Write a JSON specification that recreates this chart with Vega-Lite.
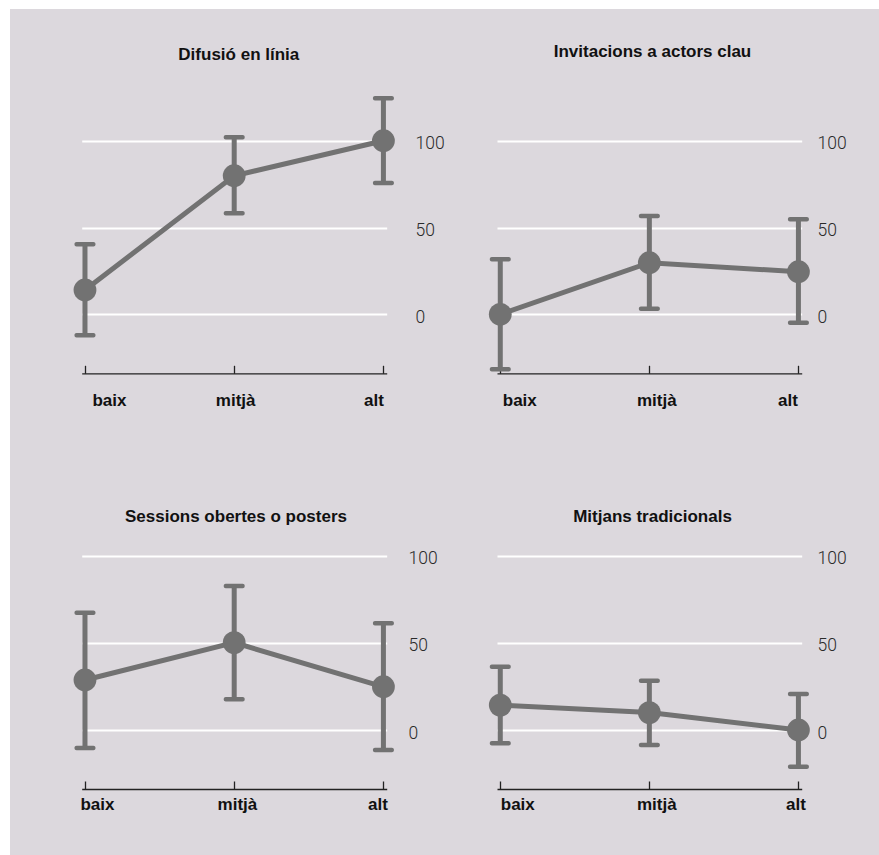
{
  "$schema": "https://vega.github.io/schema/vega-lite/v6.json",
  "background": "white",
  "padding": {"left": 10, "top": 9, "right": 0, "bottom": 0},
  "columns": 2,
  "spacing": 0,
  "bounds": "flush",
  "data": {"values": [
    {"panell": "Difusió en línia", "nivell": "baix", "ord": 1, "valor": 14.0, "lo": -12.1, "hi": 40.3},
    {"panell": "Difusió en línia", "nivell": "mitjà", "ord": 2, "valor": 79.8, "lo": 58.2, "hi": 102.0},
    {"panell": "Difusió en línia", "nivell": "alt", "ord": 3, "valor": 100.0, "lo": 75.6, "hi": 124.4},
    {"panell": "Invitacions a actors clau", "nivell": "baix", "ord": 1, "valor": 0.0, "lo": -31.7, "hi": 31.7},
    {"panell": "Invitacions a actors clau", "nivell": "mitjà", "ord": 2, "valor": 29.7, "lo": 3.2, "hi": 56.6},
    {"panell": "Invitacions a actors clau", "nivell": "alt", "ord": 3, "valor": 24.5, "lo": -4.8, "hi": 54.7},
    {"panell": "Sessions obertes o posters", "nivell": "baix", "ord": 1, "valor": 28.7, "lo": -10.3, "hi": 67.3},
    {"panell": "Sessions obertes o posters", "nivell": "mitjà", "ord": 2, "valor": 50.1, "lo": 17.6, "hi": 82.6},
    {"panell": "Sessions obertes o posters", "nivell": "alt", "ord": 3, "valor": 24.8, "lo": -11.5, "hi": 61.2},
    {"panell": "Mitjans tradicionals", "nivell": "baix", "ord": 1, "valor": 14.3, "lo": -7.6, "hi": 36.3},
    {"panell": "Mitjans tradicionals", "nivell": "mitjà", "ord": 2, "valor": 10.0, "lo": -8.6, "hi": 28.3},
    {"panell": "Mitjans tradicionals", "nivell": "alt", "ord": 3, "valor": 0.0, "lo": -21.1, "hi": 20.7}
  ]},
  "concat": [
    {
      "width": 450, "height": 418,
      "title": {"text": "Difusió en línia", "anchor": "middle", "frame": "group", "offset": -63, "baseline": "middle", "dx": 3.8},
      "transform": [{"filter": "datum.panell == 'Difusió en línia'"}],
      "encoding": {
        "x": {"field": "nivell", "type": "ordinal", "sort": ["baix", "mitjà", "alt"],
          "scale": {"type": "point", "domain": ["baix", "mitjà", "alt"], "range": [71.7, 376.7], "padding": 0.022},
          "axis": {"title": null, "orient": "bottom", "offset": -53.7, "labelPadding": 34.7,
            "labelOffset": {"expr": "datum.value == 'baix' ? 7 : datum.value == 'mitjà' ? 1 : 0"}}}
      },
      "layer": [
        {"mark": {"type": "rule", "strokeWidth": 5, "color": "#727272"},
         "encoding": {"y": {"field": "lo", "type": "quantitative", "scale": {"domain": [0, 100], "range": [305.3, 131.7], "nice": false, "zero": false}}, "y2": {"field": "hi"}}},
        {"mark": {"type": "tick", "size": 21, "thickness": 4.5, "cornerRadius": 2, "color": "#727272", "opacity": 1},
         "encoding": {"y": {"field": "lo", "type": "quantitative", "scale": {"domain": [0, 100], "range": [305.3, 131.7], "nice": false, "zero": false}}}},
        {"mark": {"type": "tick", "size": 21, "thickness": 4.5, "cornerRadius": 2, "color": "#727272", "opacity": 1},
         "encoding": {"y": {"field": "hi", "type": "quantitative", "scale": {"domain": [0, 100], "range": [305.3, 131.7], "nice": false, "zero": false}}}},
        {"mark": {"type": "line", "strokeWidth": 5, "color": "#727272"},
         "encoding": {"order": {"field": "ord"}, "y": {"field": "valor", "type": "quantitative", "scale": {"domain": [0, 100], "range": [305.3, 131.7], "nice": false, "zero": false},
           "axis": {"title": null, "orient": "left", "offset": -405, "values": [0, 50, 100]}}}},
        {"mark": {"type": "point", "filled": true, "size": 520, "opacity": 1, "color": "#727272"},
         "encoding": {"y": {"field": "valor", "type": "quantitative", "scale": {"domain": [0, 100], "range": [305.3, 131.7], "nice": false, "zero": false}}}}
      ]
    },
    {
      "width": 419, "height": 418,
      "title": {"text": "Invitacions a actors clau", "anchor": "middle", "frame": "group", "offset": -59.7, "baseline": "middle", "dx": -17},
      "transform": [{"filter": "datum.panell == 'Invitacions a actors clau'"}],
      "encoding": {
        "x": {"field": "nivell", "type": "ordinal", "sort": ["baix", "mitjà", "alt"],
          "scale": {"type": "point", "domain": ["baix", "mitjà", "alt"], "range": [37, 341.7], "padding": 0.022},
          "axis": {"title": null, "orient": "bottom", "offset": -53.7, "labelPadding": 34.7,
            "labelOffset": {"expr": "datum.value == 'baix' ? 2 : datum.value == 'mitjà' ? 7 : -1"}}}
      },
      "layer": [
        {"mark": {"type": "rule", "strokeWidth": 5, "color": "#727272"},
         "encoding": {"y": {"field": "lo", "type": "quantitative", "scale": {"domain": [0, 100], "range": [305.3, 131.7], "nice": false, "zero": false}}, "y2": {"field": "hi"}}},
        {"mark": {"type": "tick", "size": 21, "thickness": 4.5, "cornerRadius": 2, "color": "#727272", "opacity": 1},
         "encoding": {"y": {"field": "lo", "type": "quantitative", "scale": {"domain": [0, 100], "range": [305.3, 131.7], "nice": false, "zero": false}}}},
        {"mark": {"type": "tick", "size": 21, "thickness": 4.5, "cornerRadius": 2, "color": "#727272", "opacity": 1},
         "encoding": {"y": {"field": "hi", "type": "quantitative", "scale": {"domain": [0, 100], "range": [305.3, 131.7], "nice": false, "zero": false}}}},
        {"mark": {"type": "line", "strokeWidth": 5, "color": "#727272"},
         "encoding": {"order": {"field": "ord"}, "y": {"field": "valor", "type": "quantitative", "scale": {"domain": [0, 100], "range": [305.3, 131.7], "nice": false, "zero": false},
           "axis": {"title": null, "orient": "left", "offset": -357, "values": [0, 50, 100]}}}},
        {"mark": {"type": "point", "filled": true, "size": 520, "opacity": 1, "color": "#727272"},
         "encoding": {"y": {"field": "valor", "type": "quantitative", "scale": {"domain": [0, 100], "range": [305.3, 131.7], "nice": false, "zero": false}}}}
      ]
    },
    {
      "width": 450, "height": 428,
      "title": {"text": "Sessions obertes o posters", "anchor": "middle", "frame": "group", "offset": -106.7, "baseline": "middle", "dx": 1},
      "transform": [{"filter": "datum.panell == 'Sessions obertes o posters'"}],
      "encoding": {
        "x": {"field": "nivell", "type": "ordinal", "sort": ["baix", "mitjà", "alt"],
          "scale": {"type": "point", "domain": ["baix", "mitjà", "alt"], "range": [71.7, 376.7], "padding": 0.022},
          "axis": {"title": null, "orient": "bottom", "offset": -66, "labelPadding": 23,
            "labelOffset": {"expr": "datum.value == 'baix' ? -5 : datum.value == 'mitjà' ? 2.7 : 4"}}}
      },
      "layer": [
        {"mark": {"type": "rule", "strokeWidth": 5, "color": "#727272"},
         "encoding": {"y": {"field": "lo", "type": "quantitative", "scale": {"domain": [0, 100], "range": [303, 128.7], "nice": false, "zero": false}}, "y2": {"field": "hi"}}},
        {"mark": {"type": "tick", "size": 21, "thickness": 4.5, "cornerRadius": 2, "color": "#727272", "opacity": 1},
         "encoding": {"y": {"field": "lo", "type": "quantitative", "scale": {"domain": [0, 100], "range": [303, 128.7], "nice": false, "zero": false}}}},
        {"mark": {"type": "tick", "size": 21, "thickness": 4.5, "cornerRadius": 2, "color": "#727272", "opacity": 1},
         "encoding": {"y": {"field": "hi", "type": "quantitative", "scale": {"domain": [0, 100], "range": [303, 128.7], "nice": false, "zero": false}}}},
        {"mark": {"type": "line", "strokeWidth": 5, "color": "#727272"},
         "encoding": {"order": {"field": "ord"}, "y": {"field": "valor", "type": "quantitative", "scale": {"domain": [0, 100], "range": [303, 128.7], "nice": false, "zero": false},
           "axis": {"title": null, "orient": "left", "offset": -398, "values": [0, 50, 100]}}}},
        {"mark": {"type": "point", "filled": true, "size": 520, "opacity": 1, "color": "#727272"},
         "encoding": {"y": {"field": "valor", "type": "quantitative", "scale": {"domain": [0, 100], "range": [303, 128.7], "nice": false, "zero": false}}}}
      ]
    },
    {
      "width": 419, "height": 428,
      "title": {"text": "Mitjans tradicionals", "anchor": "middle", "frame": "group", "offset": -106.7, "baseline": "middle", "dx": -17},
      "transform": [{"filter": "datum.panell == 'Mitjans tradicionals'"}],
      "encoding": {
        "x": {"field": "nivell", "type": "ordinal", "sort": ["baix", "mitjà", "alt"],
          "scale": {"type": "point", "domain": ["baix", "mitjà", "alt"], "range": [37, 341.7], "padding": 0.022},
          "axis": {"title": null, "orient": "bottom", "offset": -66, "labelPadding": 23,
            "labelOffset": {"expr": "datum.value == 'baix' ? 0 : 7"}}}
      },
      "layer": [
        {"mark": {"type": "rule", "strokeWidth": 5, "color": "#727272"},
         "encoding": {"y": {"field": "lo", "type": "quantitative", "scale": {"domain": [0, 100], "range": [303, 128.7], "nice": false, "zero": false}}, "y2": {"field": "hi"}}},
        {"mark": {"type": "tick", "size": 21, "thickness": 4.5, "cornerRadius": 2, "color": "#727272", "opacity": 1},
         "encoding": {"y": {"field": "lo", "type": "quantitative", "scale": {"domain": [0, 100], "range": [303, 128.7], "nice": false, "zero": false}}}},
        {"mark": {"type": "tick", "size": 21, "thickness": 4.5, "cornerRadius": 2, "color": "#727272", "opacity": 1},
         "encoding": {"y": {"field": "hi", "type": "quantitative", "scale": {"domain": [0, 100], "range": [303, 128.7], "nice": false, "zero": false}}}},
        {"mark": {"type": "line", "strokeWidth": 5, "color": "#727272"},
         "encoding": {"order": {"field": "ord"}, "y": {"field": "valor", "type": "quantitative", "scale": {"domain": [0, 100], "range": [303, 128.7], "nice": false, "zero": false},
           "axis": {"title": null, "orient": "left", "offset": -357, "values": [0, 50, 100]}}}},
        {"mark": {"type": "point", "filled": true, "size": 520, "opacity": 1, "color": "#727272"},
         "encoding": {"y": {"field": "valor", "type": "quantitative", "scale": {"domain": [0, 100], "range": [303, 128.7], "nice": false, "zero": false}}}}
      ]
    }
  ],
  "config": {
    "view": {"fill": "#dcd8dd", "stroke": null},
    "title": {"font": "Liberation Sans", "fontSize": 17, "fontWeight": "bold", "color": "#111111"},
    "axisX": {"grid": false, "domain": true, "domainColor": "#222222", "domainWidth": 1.3, "ticks": true, "tickSize": -8, "tickColor": "#222222", "tickWidth": 1.3,
      "labelBaseline": "middle", "labelAngle": 0, "labelOverlap": false, "labelFont": "Liberation Sans", "labelFontWeight": "bold", "labelFontSize": 17, "labelColor": "#111111",
      "labelAlign": {"expr": "datum.value == 'baix' ? 'left' : datum.value == 'alt' ? 'right' : 'center'"}, "minExtent": 0, "maxExtent": 0},
    "axisY": {"format": "d", "grid": true, "gridColor": "#ffffff", "gridWidth": 2, "domain": false, "ticks": false, "tickSize": 0,
      "labelAlign": "left", "labelBaseline": "middle", "labelPadding": 0, "labelOffset": 3, "labelFont": "Roboto", "labelFontWeight": 300, "labelFontSize": 17.5, "labelColor": "#2a2a2a",
      "labelOverlap": false, "minExtent": 0, "maxExtent": 0}
  }
}
